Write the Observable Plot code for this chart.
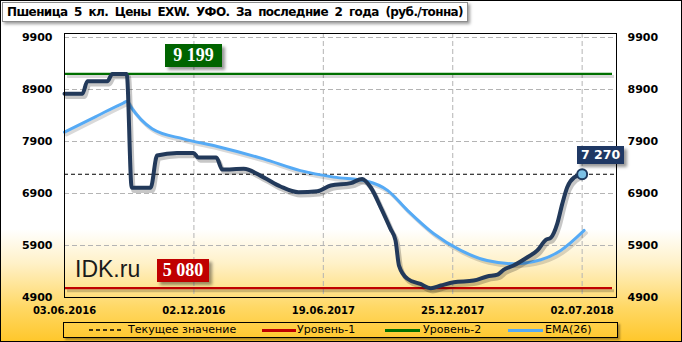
<!DOCTYPE html>
<html><head><meta charset="utf-8">
<script src="https://cdn.jsdelivr.net/npm/d3@7"></script>
<script src="https://cdn.jsdelivr.net/npm/@observablehq/plot@0.6"></script>
<style>
body{margin:0;background:#fff;}
#chart{position:relative;width:682px;height:342px;overflow:hidden;
  background:linear-gradient(to bottom,#fff 0%,#fff 67%,#fff1c8 77%,#ffd864 90%,#ffc72a 100%);
  font-family:"DejaVu Sans",sans-serif;}
#border{position:absolute;left:0;top:0;width:680px;height:340px;border:1px solid #000;pointer-events:none;}
#plot{position:absolute;left:0;top:0;}
#title{position:absolute;left:2px;top:2px;width:460px;height:18px;background:#fff;border:1px solid #8c8c8c;
  box-shadow:2px 2px 3px rgba(0,0,0,.4);font-weight:bold;font-size:12px;line-height:18px;padding-left:4px;white-space:nowrap;color:#000;}
#ttext{word-spacing:3px;}
#legend{position:absolute;left:63px;top:322px;width:553px;height:14px;border:1px solid #000;box-shadow:2px 2px 2px rgba(0,0,0,.35);}
#legend .t{position:absolute;top:0;font-size:11px;line-height:14px;color:#000;white-space:nowrap;}
#legend .l{position:absolute;top:6px;height:3px;}
.lbl{position:absolute;color:#fff;font-weight:bold;text-align:center;box-shadow:3px 3px 3px rgba(0,0,0,.4);white-space:nowrap;}
.serif{font-family:"Liberation Serif",serif;font-size:18px;height:23px;line-height:23px;}
#idk{position:absolute;font-family:"Liberation Sans",Arial,sans-serif;font-size:23px;line-height:23px;color:#1a1a1a;}
</style></head>
<body>
<div id="chart">
  <div id="plot"></div>
  <div id="title"><span id="ttext">Пшеница 5 кл. Цены EXW. УФО. За последние 2 года (руб./тонна)</span></div>
  <div id="legend">
    <svg class="l" style="left:25px;top:5px;height:4px;width:34px"><line x1="0" y1="2" x2="34" y2="2" stroke="#000" stroke-width="1.3" stroke-dasharray="4,3"/></svg>
    <div class="t" style="left:64px">Текущее значение</div>
    <div class="l" style="left:198px;width:34px;background:#c00000"></div>
    <div class="t" style="left:233px">Уровень-1</div>
    <div class="l" style="left:321px;width:35px;background:#007000"></div>
    <div class="t" style="left:359px">Уровень-2</div>
    <div class="l" style="left:444px;width:35px;background:#55aaf5"></div>
    <div class="t" style="left:481px">EMA(26)</div>
  </div>
  <div id="border"></div>
</div>
<script>
// x positions are week indices from 03.06.2016
const tickIdx = [0, 26, 52, 78, 104];
const tickLabels = ["03.06.2016", "02.12.2016", "19.06.2017", "25.12.2017", "02.07.2018"];
const yTicks = [4900, 5900, 6900, 7900, 8900, 9900];

const priceIdx = [0, 3.6, 4.6, 8.6, 9.6, 12.5, 13.5, 17.3, 18.6, 22.6, 25.9, 26.9, 30.5, 31.7, 36, 40, 43.4, 47, 50.8, 53.5, 57.5, 59.8, 61.5, 63.5, 65.5, 66.5, 67.2, 68.9, 71.5, 73.6, 75.6, 78.2, 82.2, 84.9, 87, 88.2, 90.2, 93, 95, 96.7, 97.7, 99, 100, 101, 102.4, 104];
const priceVal = [8820, 8820, 9060, 9060, 9199, 9199, 7010, 7010, 7630, 7680, 7680, 7590, 7590, 7360, 7375, 7210, 7035, 6925, 6945, 7055, 7100, 7180, 7020, 6640, 6220, 6000, 5515, 5260, 5160, 5080, 5130, 5195, 5225, 5305, 5340, 5430, 5515, 5675, 5805, 6010, 6050, 6320, 6700, 7020, 7210, 7270];

const emaIdx = [0, 6.3, 11.9, 12.6, 13.3, 17.6, 23.9, 30.7, 40, 47.4, 54.1, 60.8, 64.9, 68.9, 74.2, 79.6, 84.9, 90.2, 95.7, 99.7, 104.4];
const emaVal = [8080, 8380, 8645, 8675, 8570, 8145, 7950, 7805, 7565, 7340, 7215, 7135, 6960, 6575, 6125, 5805, 5610, 5550, 5625, 5805, 6190];

const level1 = 5080;
const level2 = 9199;
const current = 7270;

const fmt = v => d3.format(",")(v).replace(/,/g, " ");

const plot = Plot.plot({
  width: 682, height: 342,
  marginLeft: 64, marginRight: 66, marginTop: 33, marginBottom: 45,
  style: {background: "transparent", fontFamily: "DejaVu Sans", color: "#000", overflow: "visible"},
  x: {domain: [0, 110.9], axis: null},
  y: {domain: [4900, 9977], axis: null},
  marks: [
    Plot.gridY(yTicks.slice(1), {stroke: "#b4b4b4", strokeOpacity: 1, strokeDasharray: "5,3"}),
    Plot.gridX(tickIdx.slice(1), {stroke: "#b4b4b4", strokeOpacity: 1, strokeDasharray: "5,3"}),
    Plot.axisY(yTicks, {anchor: "left", tickSize: 0, tickPadding: 12, label: null, fontSize: 11, fontWeight: "bold", tickFormat: d => String(d)}),
    Plot.axisY(yTicks, {anchor: "right", tickSize: 0, tickPadding: 11, label: null, fontSize: 11, fontWeight: "bold", tickFormat: d => String(d)}),
    Plot.axisX(tickIdx, {anchor: "bottom", tickSize: 0, tickPadding: 9, label: null, fontSize: 10, fontWeight: "bold", tickFormat: (d, i) => tickLabels[i]}),
    Plot.ruleY([current], {stroke: "#000", strokeWidth: 1, strokeDasharray: "4,3"}),
    Plot.ruleY([level1], {stroke: "#000", strokeOpacity: 0.2, strokeWidth: 3, dy: 2.5, insetLeft: 3, insetRight: 2}),
    Plot.ruleY([level1], {stroke: "#c00000", strokeWidth: 2.2, insetLeft: 1, insetRight: 4}),
    Plot.ruleY([level2], {stroke: "#000", strokeOpacity: 0.15, strokeWidth: 3, dy: 2.5, insetLeft: 3, insetRight: 2}),
    Plot.ruleY([level2], {stroke: "#007000", strokeWidth: 2.2, insetLeft: 1, insetRight: 4}),
    Plot.line(emaVal, {x: emaIdx, y: emaVal, curve: "monotone-x", stroke: "#000", strokeOpacity: 0.15, strokeWidth: 3.5, dx: 2, dy: 2.5}),
    Plot.line(emaVal, {x: emaIdx, y: emaVal, curve: "monotone-x", stroke: "#55aaf5", strokeWidth: 3}),
    Plot.line(priceVal, {x: priceIdx, y: priceVal, curve: "monotone-x", stroke: "#000", strokeOpacity: 0.22, strokeWidth: 4.5, dx: 2, dy: 3}),
    Plot.line(priceVal, {x: priceIdx, y: priceVal, curve: "monotone-x", stroke: "#22395a", strokeWidth: 4}),
    Plot.dot([current], {x: [priceIdx[priceIdx.length - 1]], y: [current], r: 5, fill: "#7cc1e6", stroke: "#1f3a5f", strokeWidth: 2}),
    Plot.frame({stroke: "#000", strokeWidth: 1})
  ]
});
document.getElementById("plot").appendChild(plot);

const sx = plot.scale("x"), sy = plot.scale("y");
const chart = document.getElementById("chart");
function addBox(text, bg, cls, w, h, cx, top, extra) {
  const d = document.createElement("div");
  d.className = "lbl " + cls;
  d.textContent = text;
  Object.assign(d.style, {background: bg, width: w + "px", height: h + "px", lineHeight: h + "px",
    left: (cx - w / 2) + "px", top: top + "px"}, extra || {});
  chart.insertBefore(d, document.getElementById("border"));
}
addBox(fmt(level2), "#006400", "serif", 57, 23, sx.apply(tickIdx[1]), sy.apply(level2) - 29);
addBox(fmt(level1), "#c00000", "serif", 52, 23, sx.apply(tickIdx[1]) - 10.5, sy.apply(level1) - 29);
const lastX = sx.apply(priceIdx[priceIdx.length - 1]);
addBox(fmt(current), "#1f3864", "", 47, 18, lastX + 19, sy.apply(current) - 28,
  {fontFamily: "DejaVu Sans", fontSize: "12.5px"});
const idk = document.createElement("div");
idk.id = "idk"; idk.textContent = "IDK.ru";
idk.style.left = "75px"; idk.style.top = (sy.apply(level1) - 30) + "px";
chart.insertBefore(idk, document.getElementById("border"));

// fit title text width to the reference box
const tt = document.getElementById("ttext");
const w = tt.getBoundingClientRect().width;
const target = 456;
tt.style.letterSpacing = ((target - w) / tt.textContent.length) + "px";
</script>
</body></html>
